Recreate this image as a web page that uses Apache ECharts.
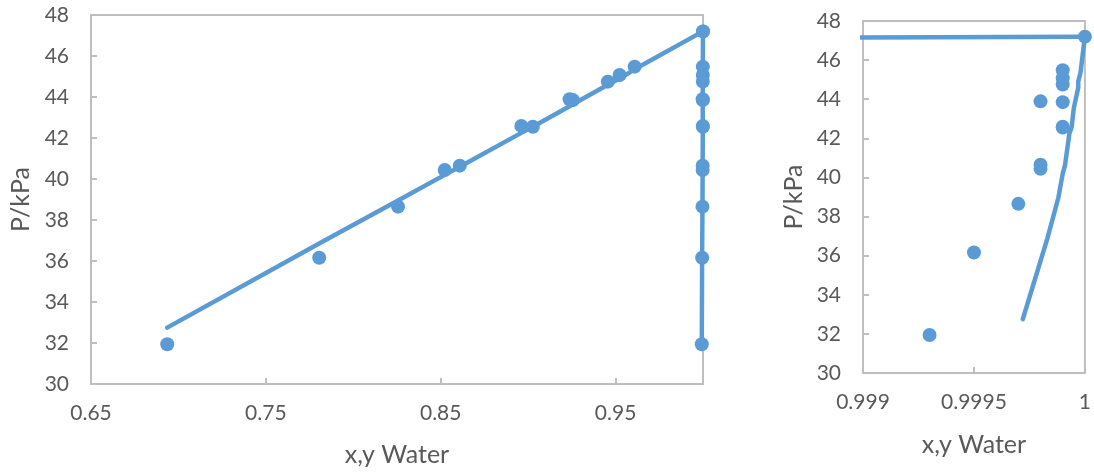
<!DOCTYPE html>
<html>
<head>
<meta charset="utf-8">
<script src="https://cdn.jsdelivr.net/npm/echarts@6/dist/echarts.min.js"></script>
<style>
html,body{margin:0;padding:0;background:#fff;}
#chart{width:1094px;height:472px;}
</style>
</head>
<body>
<div id="chart"></div>
<script>
// Experimental pressures (kPa)
const pExp = [31.94, 36.16, 38.65, 40.44, 40.65, 42.59, 42.55, 43.89, 43.85, 44.75, 45.07, 45.48, 47.2];
// Experimental liquid mole fraction of water
const xExp = [0.6936, 0.7805, 0.8256, 0.8523, 0.8609, 0.8961, 0.9027, 0.9237, 0.9256, 0.9456, 0.9523, 0.9609, 1.0];
// Experimental vapor mole fraction of water
const yExp = [0.9993, 0.9995, 0.9997, 0.9998, 0.9998, 0.9999, 0.9999, 0.9998, 0.9999, 0.9999, 0.9999, 0.9999, 1.0];
// Calculated pressures (model curves)
const pCalc = [32.75, 36.85, 38.95, 40.2, 40.6, 42.25, 42.55, 43.55, 43.65, 44.6, 44.9, 45.35, 47.2];
// Calculated vapor mole fraction
const yCalc = [0.99972, 0.99983, 0.99988, 0.99990, 0.99991, 0.99993, 0.99994, 0.99995, 0.99995, 0.99997, 0.99997, 0.99998, 1.0];

const yTicks = {min: 30, max: 48, interval: 2};
const xTitle = 'x,y Water';
const yTitle = 'P/kPa';

const BLUE = '#5B9BD5';
const GRAY = '#BFBFBF';
const TXT = '#595959';
const FONT = 'Lato';

const pairs = (a, b) => a.map((v, i) => [v, b[i]]);

const chart = echarts.init(document.getElementById('chart'), null, {renderer: 'canvas'});

function xAxisCfg(gi, min, max, interval, fmt, gap) {
  return {
    type: 'value', gridIndex: gi, min: min, max: max, interval: interval,
    name: xTitle, nameLocation: 'middle', nameGap: gap,
    nameTextStyle: {color: TXT, fontFamily: FONT, fontSize: 25},
    axisLine: {show: true, lineStyle: {color: GRAY, width: 2}},
    axisTick: {show: true, inside: true, length: 6, lineStyle: {color: GRAY, width: 2}},
    axisLabel: {color: TXT, fontFamily: FONT, fontSize: 21, margin: 19, formatter: fmt, showMaxLabel: gi === 1},
    splitLine: {show: false}
  };
}
function yAxisCfg(gi) {
  return {
    type: 'value', gridIndex: gi, min: yTicks.min, max: yTicks.max, interval: yTicks.interval,
    name: yTitle, nameLocation: 'middle', nameGap: 57, nameRotate: 90,
    nameTextStyle: {color: TXT, fontFamily: FONT, fontSize: 25},
    axisLine: {show: true, lineStyle: {color: GRAY, width: 2}},
    axisTick: {show: true, inside: true, length: 6, lineStyle: {color: GRAY, width: 2}},
    axisLabel: {color: TXT, fontFamily: FONT, fontSize: 21, margin: 22},
    splitLine: {show: false}
  };
}

const lineStyle = {color: BLUE, width: 4.5, cap: 'round', join: 'round'};
const itemStyle = {color: BLUE, opacity: 1};

chart.setOption({
  animation: false,
  grid: [
    {left: 91, top: 15, width: 612, height: 369, show: true, borderColor: GRAY, borderWidth: 2, backgroundColor: 'transparent'},
    {left: 863, top: 21, width: 225, height: 352, show: true, borderColor: GRAY, borderWidth: 2, backgroundColor: 'transparent'}
  ],
  xAxis: [
    xAxisCfg(0, 0.65, 1, 0.1, v => v.toFixed(2), 58),
    xAxisCfg(1, 0.999, 1, 0.0005, v => String(+v.toFixed(4)), 59)
  ],
  yAxis: [yAxisCfg(0), yAxisCfg(1)],
  series: [
    // Left chart
    {type: 'line', xAxisIndex: 0, yAxisIndex: 0, data: pairs(xExp, pCalc), showSymbol: false, symbol: 'none', lineStyle: lineStyle, z: 2},
    {type: 'line', xAxisIndex: 0, yAxisIndex: 0, data: pairs(yExp, pExp), symbol: 'circle', symbolSize: 14, showSymbol: true, lineStyle: lineStyle, itemStyle: itemStyle, z: 3},
    {type: 'scatter', xAxisIndex: 0, yAxisIndex: 0, data: pairs(xExp, pExp), symbol: 'circle', symbolSize: 14, itemStyle: itemStyle, z: 4},
    // Right chart
    {type: 'line', xAxisIndex: 1, yAxisIndex: 1, data: pairs(xExp, pCalc), showSymbol: false, symbol: 'none', lineStyle: lineStyle, clip: true, z: 2},
    {type: 'line', xAxisIndex: 1, yAxisIndex: 1, data: pairs(yCalc, pCalc), showSymbol: false, symbol: 'none', lineStyle: lineStyle, clip: true, z: 2},
    {type: 'scatter', xAxisIndex: 1, yAxisIndex: 1, data: pairs(yExp, pExp), symbol: 'circle', symbolSize: 14, itemStyle: itemStyle, clip: false, z: 4}
  ]
});
</script>
</body>
</html>
